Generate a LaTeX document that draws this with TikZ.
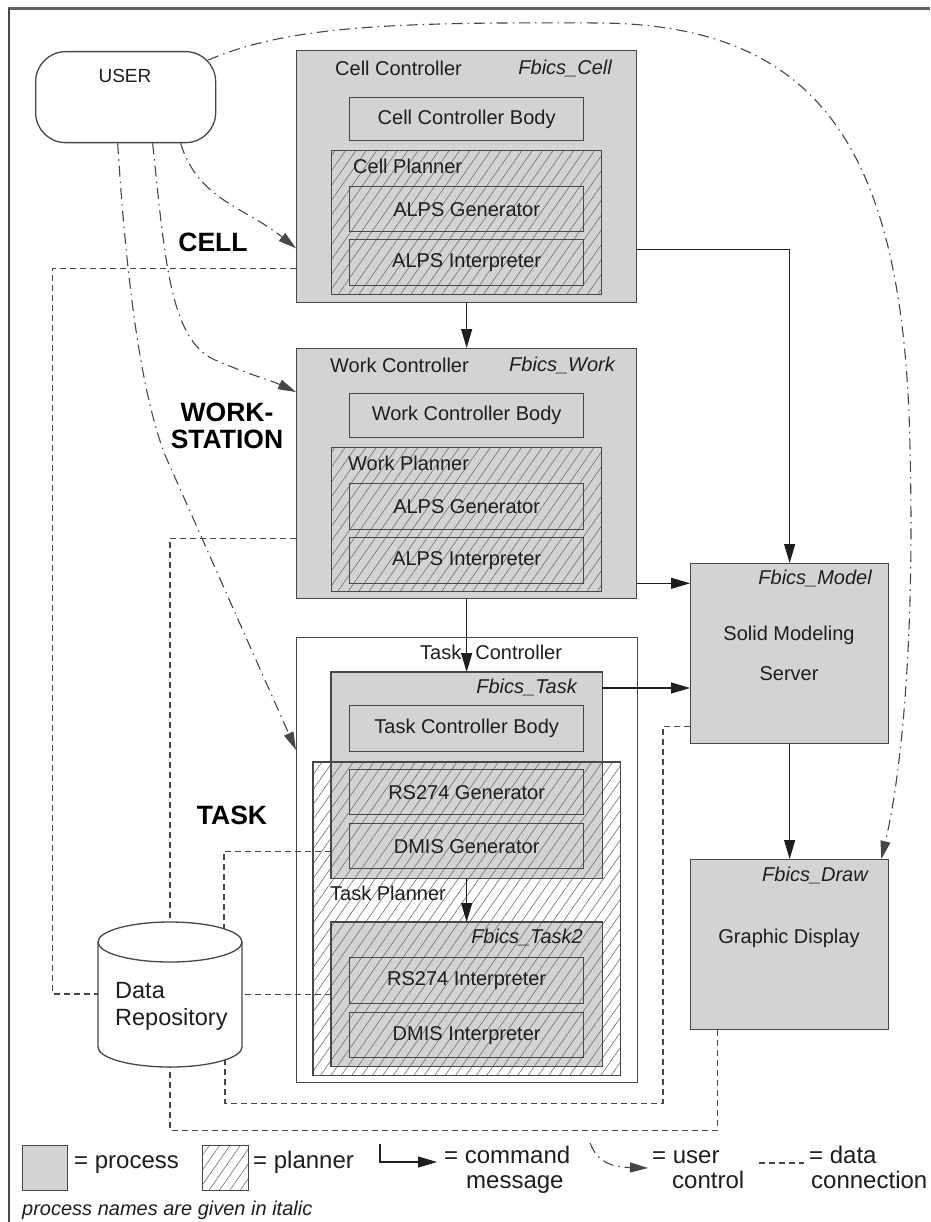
\documentclass[tikz,border=0pt]{standalone}
\usepackage{fontspec}
\setmainfont{Liberation Sans}
\usetikzlibrary{arrows.meta,patterns.meta,calc}
\definecolor{procgray}{HTML}{D3D3D3}
\definecolor{edge}{HTML}{474747}
\definecolor{hatch}{HTML}{707070}
\definecolor{ink}{HTML}{1E1E1E}
\tikzset{
  box/.style={draw=edge, line width=1.3pt, inner sep=0pt, anchor=north west, font=\fontsize{20}{24}\selectfont, text=ink},
  proc/.style={box, fill=procgray},
  hatchfill/.style={pattern={Lines[angle=55,distance=8.5pt,line width=0.6pt]}, pattern color=hatch},
  lbl/.style={inner sep=0pt, font=\fontsize{20}{24}\selectfont, text=ink},
  plbl/.style={inner sep=0pt, font=\fontsize{20}{24}\selectfont\itshape, text=ink},
  lg/.style={inner sep=0pt, font=\fontsize{24}{24}\selectfont, text=ink, anchor=base west},
  big/.style={inner sep=0pt, font=\fontsize{26.5}{27}\selectfont\bfseries, text=black, align=center},
  cmd/.style={draw=ink, line width=1.1pt, -{Triangle[length=19pt,width=11pt]}},
  uctl/.style={draw=edge, line width=1.1pt, dash pattern=on 11pt off 5pt on 1.5pt off 5pt, -{Triangle[length=18pt,width=10pt]}},
  data/.style={draw=edge, line width=1.1pt, dash pattern=on 6pt off 4pt},
}
\begin{document}
\begin{tikzpicture}[x=1pt,y=-1pt]
\useasboundingbox (0,0) rectangle (930,1222);
\fill[white] (0,0) rectangle (930,1222);
\draw[edge!85, line width=3pt] (8,8.5) -- (930,8.5);
\draw[edge, line width=2pt] (9,8) -- (9,1222);

% USER
\node[draw=edge, line width=1.3pt, rounded corners=30pt, minimum width=180pt, minimum height=91pt, anchor=north west, inner sep=0pt] (user) at (35,51) {};
\node[lbl, font=\fontsize{19}{22}\selectfont] (userlbl) at (125,76) {USER};

% level labels
\node[big] (lcell) at (213,242) {CELL};
\node[big] (lwork) at (227,426) {WORK-\\STATION};
\node[big] (ltask) at (232,815) {TASK};

% Cell controller
\node[proc, minimum width=340pt, minimum height=252pt] (cell) at (296,50) {};
\node[lbl, anchor=west] (celltitle) at (335,68) {Cell Controller};
\node[plbl, anchor=east] (cellproc) at (612,68) {Fbics\_Cell};
\node[box, minimum width=234pt, minimum height=43pt] (cellbody) at (349,97) {Cell Controller Body};
\node[box, hatchfill, minimum width=270pt, minimum height=144pt] (cellplan) at (331,150) {};
\node[lbl, anchor=west] (cellplanlbl) at (353,166) {Cell Planner};
\node[box, minimum width=234pt, minimum height=45pt] (cellgen) at (349,186) {ALPS Generator};
\node[box, minimum width=234pt, minimum height=46pt] (cellint) at (349,239) {ALPS Interpreter};

% Work controller
\node[proc, minimum width=340pt, minimum height=250pt] (work) at (296,348) {};
\node[lbl, anchor=west] (worktitle) at (330,365) {Work Controller};
\node[plbl, anchor=east] (workproc) at (615,365) {Fbics\_Work};
\node[box, minimum width=234pt, minimum height=44pt] (workbody) at (349,393) {Work Controller Body};
\node[box, hatchfill, minimum width=270pt, minimum height=144pt] (workplan) at (331,447) {};
\node[lbl, anchor=west] (workplanlbl) at (348,463) {Work Planner};
\node[box, minimum width=234pt, minimum height=46pt] (workgen) at (349,483) {ALPS Generator};
\node[box, minimum width=234pt, minimum height=46pt] (workint) at (349,537) {ALPS Interpreter};

% Task controller
\node[box, fill=white, minimum width=341pt, minimum height=445pt] (tout) at (296,637) {};
\node[lbl, anchor=west] (touttitle) at (420,652) {Task\hspace{14pt}Controller};
\node[box, draw=none, fill=white, minimum width=306pt, minimum height=312pt] (tplan) at (313,762) {};
\node[box, draw=none, fill=procgray, minimum width=270pt, minimum height=205pt] (ftask) at (331,672) {};
\node[box, draw=none, fill=procgray, minimum width=270pt, minimum height=143pt] (ftask2) at (331,922) {};
\path[hatchfill] (tplan.north west) rectangle (tplan.south east);
\draw[edge, line width=1.3pt] (tplan.north west) rectangle (tplan.south east);
\draw[edge, line width=1.3pt] (ftask.north west) rectangle (ftask.south east);
\draw[edge, line width=1.3pt] (ftask2.north west) rectangle (ftask2.south east);
\node[plbl, anchor=east] (ftasklbl) at (577,687) {Fbics\_Task};
\node[box, minimum width=234pt, minimum height=46pt] (tbody) at (349,705) {Task Controller Body};
\node[box, minimum width=234pt, minimum height=45pt] (rsgen) at (349,769) {RS274 Generator};
\node[box, minimum width=234pt, minimum height=45pt] (dmgen) at (349,823) {DMIS Generator};
\node[lbl, anchor=west] (tplanlbl) at (330,893) {Task Planner};
\node[plbl, anchor=east] (ftask2lbl) at (583,937) {Fbics\_Task2};
\node[box, minimum width=234pt, minimum height=46pt] (rsint) at (349,957) {RS274 Interpreter};
\node[box, minimum width=234pt, minimum height=45pt] (dmint) at (349,1012) {DMIS Interpreter};

% Solid modeling server
\node[proc, minimum width=198pt, minimum height=180pt] (model) at (690,563) {};
\node[plbl, anchor=east] (modellbl) at (872,578) {Fbics\_Model};
\node[lbl, align=center] (modeltxt) at (789,653) {Solid Modeling\\[16pt]Server};

% Graphic display
\node[proc, minimum width=198pt, minimum height=170pt] (disp) at (690,859) {};
\node[plbl, anchor=east] (displbl) at (868,875) {Fbics\_Draw};
\node[lbl] (disptxt) at (789,938) {Graphic Display};

% Data repository
\node[inner sep=0pt, minimum width=144pt, minimum height=146pt] (repo) at (170,994) {};
\filldraw[fill=white, draw=edge, line width=1.3pt] (98,942) -- (98,1047) arc[start angle=180, end angle=360, x radius=72pt, y radius=20pt] -- (242,942) arc[start angle=0, end angle=180, x radius=72pt, y radius=20pt] -- cycle;
\draw[edge, line width=1.3pt] (98,942) arc[start angle=180, end angle=360, x radius=72pt, y radius=20pt];
\node[lbl, font=\fontsize{23.5}{27}\selectfont, align=left, anchor=west] (repotxt) at (115,1006) {Data\\Repository};

% command messages
\draw[cmd] (cell.south) -- (work.north);
\draw[cmd] (work.south) -- (ftask.north);
\draw[cmd] (ftask.south) -- (ftask2.north);
\draw[cmd] (model.south) -- (disp.north);
\coordinate (c1) at ([yshift=54pt]cell.south east);
\draw[cmd] (c1) -| (model.north);
\coordinate (w1) at ([yshift=16pt]work.south east);
\draw[cmd] (w1) -- (w1 -| model.west);
\coordinate (t1) at ([yshift=-16pt]ftask.north east);
\draw[cmd] (t1) -- (t1 -| model.west);

% user control
\coordinate (u0) at ([xshift=-8pt,yshift=-9pt]user.north east);
\coordinate (d0) at ([xshift=-8pt]disp.north east);
\draw[uctl] (u0) .. controls (290,25) and (400,22) .. (600,23) .. controls (820,25) and (905,150) .. (910,450) .. controls (915,650) and (900,780) .. (d0);
\coordinate (ub1) at ([xshift=55pt]user.south);
\coordinate (ub2) at ([xshift=27pt]user.south);
\coordinate (ub3) at ([xshift=-8pt]user.south);
\coordinate (ci) at ([yshift=55pt]cell.south west);
\coordinate (wi) at ([yshift=-44pt]work.north west);
\coordinate (ti) at ([yshift=-113pt]tout.north west);
\draw[uctl] (ub1) .. controls (198,200) and (245,207) .. (ci);
\draw[uctl] (ub2) .. controls (165,260) and (170,340) .. (215,360) .. controls (250,375) and (270,380) .. (wi);
\draw[uctl] (ub3) .. controls (127,290) and (142,395) .. (165,455) -- (ti);

% data connections
\draw[data] ([yshift=35pt]cell.south west) -| ([xshift=-45pt]repo.west) -- (repo.west);
\draw[data] ([yshift=61pt]work.south west) -| (repo.north);
\coordinate (rtr) at (224,929);
\draw[data] ([yshift=27pt]ftask.south west) -| (rtr);
\coordinate (t3) at ([yshift=72pt]ftask2.south west);
\draw[data] (t3) -- (t3 -| repo.east);
\coordinate (m1) at ([yshift=18pt]model.south west);
\coordinate (rbr) at (225,1060);
\draw[data] (m1) -- ++(-27,0) -- ++(0,377) -| (rbr);
\draw[data] ([xshift=-72pt]disp.south) -- ++(0,100) -| (repo.south);

% legend
\node[proc, minimum width=45pt, minimum height=45pt] (lgproc) at (22,1145) {};
\node[lg] (lgproct) at (74,1168) {= process};
\node[box, hatchfill, minimum width=46pt, minimum height=45pt] (lgplan) at (202,1145) {};
\node[lg] (lgplant) at (253,1168) {= planner};
\coordinate (lc0) at (380,1144);
\coordinate (lc1) at (437,1162);
\draw[cmd] (lc0) |- (lc1);
\node[lg] (lgcmd1) at (444,1163) {= command};
\node[lg] (lgcmd2) at (466,1188) {message};
\coordinate (lu0) at (590,1143);
\coordinate (lu1) at (648,1168);
\draw[uctl] (lu0) .. controls (598,1163) and (612,1167) .. (lu1);
\node[lg] (lgu1) at (652,1163) {= user};
\node[lg] (lgu2) at (672,1188) {control};
\coordinate (ld0) at (759,1163);
\coordinate (ld1) at (804,1163);
\draw[data] (ld0) -- (ld1);
\node[lg] (lgd1) at (809,1163) {= data};
\node[lg] (lgd2) at (811,1188) {connection};
\node[inner sep=0pt, anchor=base west, font=\fontsize{20}{24}\selectfont\itshape, text=ink] (note) at (22,1215) {process names are given in italic};
\end{tikzpicture}
\end{document}
